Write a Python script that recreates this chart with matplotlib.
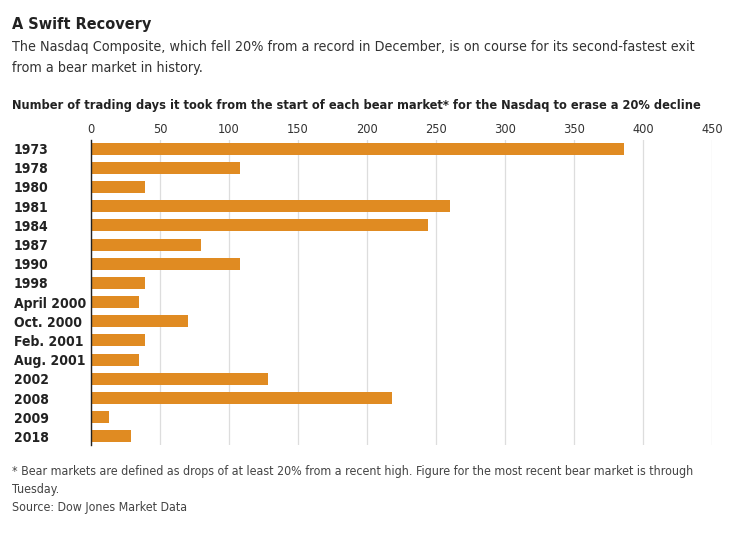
import matplotlib
matplotlib.use("Agg")
import matplotlib.pyplot as plt

# Data
labels = ["1973", "1978", "1980", "1981", "1984", "1987", "1990", "1998",
          "April 2000", "Oct. 2000", "Feb. 2001", "Aug. 2001", "2002",
          "2008", "2009", "2018"]
days = [386, 108, 39, 260, 244, 80, 108, 39, 35, 70, 39, 35, 128, 218, 13, 29]
x_ticks = [0, 50, 100, 150, 200, 250, 300, 350, 400, 450]

plt.rcParams['font.family'] = ['DejaVu Sans']
plt.rcParams['font.stretch'] = 'condensed'

fig = plt.figure(figsize=(7.42, 5.39), dpi=100)
ax = fig.add_axes([91 / 742, 1 - 445 / 539, 621 / 742, 305 / 539])

y = list(range(len(labels)))
ax.barh(y, days, height=0.63, color="#E08B22", zorder=2)

ax.set_xlim(0, 450)
ax.set_ylim(len(labels) - 0.55, -0.45)
ax.set_xticks(x_ticks)
ax.xaxis.tick_top()
ax.tick_params(axis="x", length=0, labelsize=9.2, colors="#333333", pad=3)
ax.set_yticks(y)
ax.set_yticklabels(labels, fontsize=10, fontweight="bold", color="#222222")
ax.tick_params(axis="y", length=0, pad=0)
for lab in ax.get_yticklabels():
    lab.set_horizontalalignment("left")
    lab.set_x(-77 / 621)

ax.grid(axis="x", color="#dddddd", linewidth=0.9, zorder=0)
for side in ["top", "right", "bottom"]:
    ax.spines[side].set_visible(False)
ax.spines["left"].set_color("#222222")
ax.spines["left"].set_linewidth(1.0)

fig.text(12 / 742, 1 - 25 / 539, "A Swift Recovery", fontsize=11.6,
         fontweight="bold", color="#222222", va="center")
fig.text(12 / 742, 1 - 47 / 539,
         "The Nasdaq Composite, which fell 20% from a record in December, is on course for its second-fastest exit",
         fontsize=10.3, color="#333333", va="center")
fig.text(12 / 742, 1 - 68 / 539, "from a bear market in history.",
         fontsize=10.3, color="#333333", va="center")
fig.text(12 / 742, 1 - 105 / 539,
         "Number of trading days it took from the start of each bear market* for the Nasdaq to erase a 20% decline",
         fontsize=9.2, fontweight="bold", color="#222222", va="center")

fig.text(12 / 742, 1 - 471 / 539,
         "* Bear markets are defined as drops of at least 20% from a recent high. Figure for the most recent bear market is through",
         fontsize=8.9, color="#444444", va="center")
fig.text(12 / 742, 1 - 489 / 539, "Tuesday.", fontsize=8.9, color="#444444", va="center")
fig.text(12 / 742, 1 - 507 / 539, "Source: Dow Jones Market Data",
         fontsize=8.9, color="#444444", va="center")

fig.savefig("out.png", dpi=100, facecolor="white")
